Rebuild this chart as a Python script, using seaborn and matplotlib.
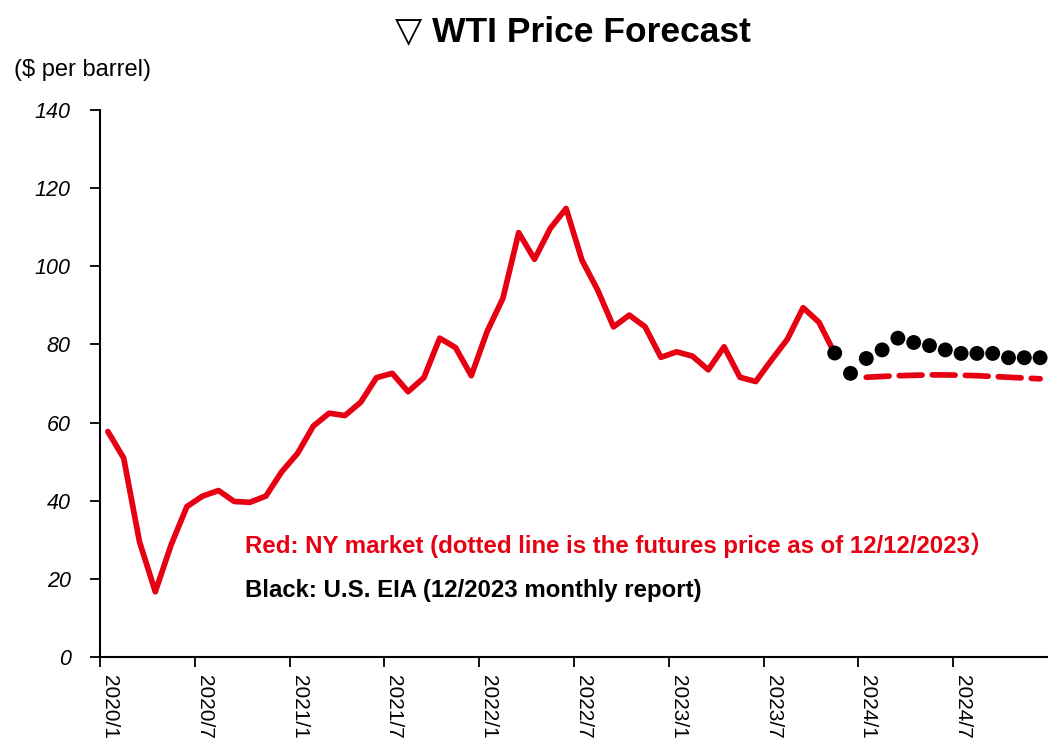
import matplotlib
matplotlib.use("Agg")
import matplotlib.pyplot as plt
import seaborn as sns
import pandas as pd
import numpy as np
from matplotlib import font_manager

# ---------------- data ----------------
months = [f"{y}/{m}" for y in range(2020, 2025) for m in range(1, 13)]

ny_market = [57.7, 50.9, 29.5, 16.7, 28.7, 38.5, 41.2, 42.6, 39.8, 39.6, 41.2, 47.4,
             52.1, 59.1, 62.4, 61.8, 65.2, 71.5, 72.6, 67.9, 71.5, 81.6, 79.2, 72.0,
             83.3, 91.8, 108.6, 101.8, 109.7, 114.8, 101.6, 93.9, 84.5, 87.5, 84.5, 76.7,
             78.1, 77.0, 73.5, 79.4, 71.6, 70.5, 76.0, 81.3, 89.4, 85.7, 77.7]

futures_months = months[48:60]
futures = [71.6, 71.8, 72.0, 72.1, 72.2, 72.2, 72.1, 72.0, 71.8, 71.6, 71.4, 71.2]

eia_months = months[46:60]
eia = [77.8, 72.6, 76.4, 78.6, 81.6, 80.5, 79.7, 78.6, 77.7, 77.7, 77.7, 76.6, 76.6, 76.6]

tick_labels = ["2020/1", "2020/7", "2021/1", "2021/7", "2022/1", "2022/7",
               "2023/1", "2023/7", "2024/1", "2024/7"]

title = "▽ WTI Price Forecast"
unit_label = "($ per barrel)"
note_red = "Red: NY market (dotted line is the futures price as of 12/12/2023）"
note_black = "Black: U.S. EIA (12/2023 monthly report)"

# ---------------- fonts ----------------
available = {f.name for f in font_manager.fontManager.ttflist}
narrow = "Liberation Sans Narrow" if "Liberation Sans Narrow" in available else "Liberation Sans"
fam = [narrow, "DejaVu Sans"]
fam_cjk = [narrow, "Noto Sans CJK JP", "DejaVu Sans"]

sns.set_theme(style="white")
plt.rcParams["font.family"] = fam

pos = {m: i for i, m in enumerate(months)}
df_ny = pd.DataFrame({"x": [pos[m] for m in months[:len(ny_market)]], "y": ny_market})
df_fut = pd.DataFrame({"x": [pos[m] for m in futures_months], "y": futures})
df_eia = pd.DataFrame({"x": [pos[m] for m in eia_months], "y": eia})

RED = "#E60012"

fig = plt.figure(figsize=(10.48, 7.4), dpi=100)
ax = fig.add_axes([100 / 1048, 83 / 740, 948 / 1048, 547 / 740])

sns.lineplot(data=df_ny, x="x", y="y", ax=ax, color=RED, linewidth=4.1, zorder=3)
sns.lineplot(data=df_fut, x="x", y="y", ax=ax, color=RED, linewidth=4.1,
             dashes=False, zorder=3)
ax.lines[-1].set_linestyle((0, (4.0, 1.8)))
ax.lines[-1].set_dash_capstyle("round")
sns.scatterplot(data=df_eia, x="x", y="y", ax=ax, color="black", s=115,
                edgecolor="none", zorder=4, clip_on=False)

ax.set_xlim(-0.5, 59.5)
ax.set_ylim(0, 140)
ax.set_xlabel("")
ax.set_ylabel("")

ax.set_yticks(np.arange(0, 141, 20))
ax.set_yticklabels([str(v) for v in range(0, 141, 20)], fontstyle="italic",
                   fontsize=15.5, family=fam, color="black")
ax.set_xticks([pos[t] - 0.5 for t in tick_labels])
ax.set_xticklabels(tick_labels, rotation=270, fontsize=15, family=fam,
                   va="top", ha="left", color="black")

for s in ["top", "right"]:
    ax.spines[s].set_visible(False)
for s in ["left", "bottom"]:
    ax.spines[s].set_color("black")
    ax.spines[s].set_linewidth(1.5)
ax.tick_params(axis="both", which="both", direction="out", length=7, width=1.3,
               color="black", left=True, bottom=True)
ax.tick_params(axis="y", pad=14)
ax.tick_params(axis="x", pad=6)
ax.grid(False)

fig.text(573 / 1048, 1 - 32 / 740, title, ha="center", va="center",
         fontsize=25.5, fontweight="bold", family=fam, color="black")
fig.text(14 / 1048, 1 - 70 / 740, unit_label, ha="left", va="center",
         fontsize=17, family=fam, color="black")
fig.text(245 / 1048, 1 - 545 / 740, note_red, color=RED, fontsize=17.3,
         fontweight="bold", family=fam_cjk, ha="left", va="center")
fig.text(245 / 1048, 1 - 590 / 740, note_black, color="black", fontsize=17.3,
         fontweight="bold", family=fam, ha="left", va="center")

fig.savefig("out.png", dpi=100)
